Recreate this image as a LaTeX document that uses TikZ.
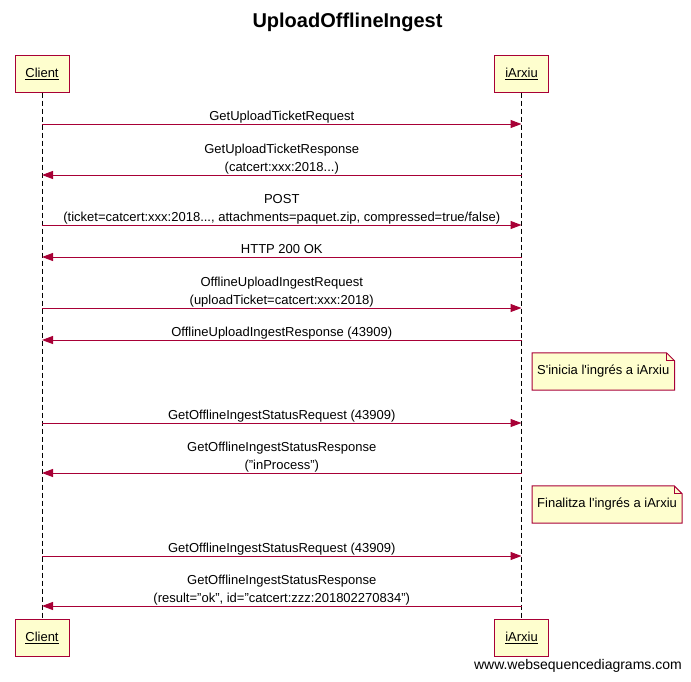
\documentclass[tikz,border=0pt]{standalone}
\usepackage{fontspec}
\setmainfont{Liberation Sans}
\usepackage{tikz}
\usetikzlibrary{arrows.meta,calc,backgrounds}
\definecolor{wsdline}{RGB}{168,0,54}
\definecolor{wsdfill}{RGB}{254,254,206}
\tikzset{
  actor/.style={draw=wsdline,fill=wsdfill,line width=1pt,minimum width=54pt,minimum height=37pt,inner sep=0pt,text height=9.5pt,text depth=1pt,font=\fontsize{13}{15}\selectfont},
  lifeline/.style={dash pattern=on 5pt off 3pt,line width=1pt},
  msg/.style={draw=wsdline,line width=1pt,-{Triangle[length=11pt,width=8pt]}},
  msglabel/.style={above,inner sep=0.5pt,align=center,text height=9.5pt,text depth=2.8pt,font=\fontsize{13}{18.5}\selectfont},
  notetext/.style={anchor=west,inner xsep=5pt,inner ysep=0pt,minimum height=37pt,font=\fontsize{13}{15}\selectfont},
  noteshape/.style={draw=wsdline,fill=wsdfill,line width=1pt}
}
\newcommand{\actorpair}[3]{
  \node[actor] (#1top) at (#2,73.5) {\underline{#3}};
  \node[actor] (#1bot) at (#2,637.5) {\underline{#3}};
  \draw[lifeline] (#1top.south)--(#1bot.north);
}
\newcommand{\seqmsg}[5]{
  \coordinate (#1s) at (#3top |- 0,#2);
  \coordinate (#1e) at (#4top |- 0,#2);
  \draw[msg] (#1s)--(#1e);
  \node[msglabel] (#1l) at ($(#1s)!0.5!(#1e)$) {#5};
}
\newcommand{\notebox}[4]{
  \node[notetext] (#1) at (#2,#3) {#4};
  \begin{scope}[on background layer]
    \draw[noteshape] (#1.north west)--($(#1.north east)+(-8,0)$)--($(#1.north east)+(0,8)$)--(#1.south east)--(#1.south west)--cycle;
  \end{scope}
  \draw[wsdline,line width=1pt] ($(#1.north east)+(-8,0)$) |- ($(#1.north east)+(0,8)$);
}

\begin{document}
\begin{tikzpicture}[x=1pt,y=-1pt]
\useasboundingbox (0,0) rectangle (691,681);
\node[font=\bfseries\fontsize{20}{22}\selectfont] (title) at (347.5,22) {UploadOfflineIngest};
\actorpair{client}{42}{Client}
\actorpair{iarxiu}{521.5}{iArxiu}
\seqmsg{m1}{124}{client}{iarxiu}{GetUploadTicketRequest}
\seqmsg{m2}{175}{iarxiu}{client}{GetUploadTicketResponse\\(catcert:xxx:2018...)}
\seqmsg{m3}{225}{client}{iarxiu}{POST\\(ticket=catcert:xxx:2018..., attachments=paquet.zip, compressed=true/false)}
\seqmsg{m4}{257}{iarxiu}{client}{HTTP 200 OK}
\seqmsg{m5}{308}{client}{iarxiu}{OfflineUploadIngestRequest\\(uploadTicket=catcert:xxx:2018)}
\seqmsg{m6}{340}{iarxiu}{client}{OfflineUploadIngestResponse (43909)}
\notebox{note1}{532}{371.5}{S\textquotesingle inicia l\textquotesingle ingrés a iArxiu}
\seqmsg{m7}{423}{client}{iarxiu}{GetOfflineIngestStatusRequest (43909)}
\seqmsg{m8}{473}{iarxiu}{client}{GetOfflineIngestStatusResponse\\("inProcess")}
\notebox{note2}{532}{504.5}{Finalitza l\textquotesingle ingrés a iArxiu}
\seqmsg{m9}{556}{client}{iarxiu}{GetOfflineIngestStatusRequest (43909)}
\seqmsg{m10}{606}{iarxiu}{client}{GetOfflineIngestStatusResponse\\(result="ok", id="catcert:zzz:201802270834")}
\node[anchor=east,inner sep=0pt,font=\fontsize{14}{16}\selectfont] (footer) at (682,666) {www.websequencediagrams.com};
\end{tikzpicture}
\end{document}
